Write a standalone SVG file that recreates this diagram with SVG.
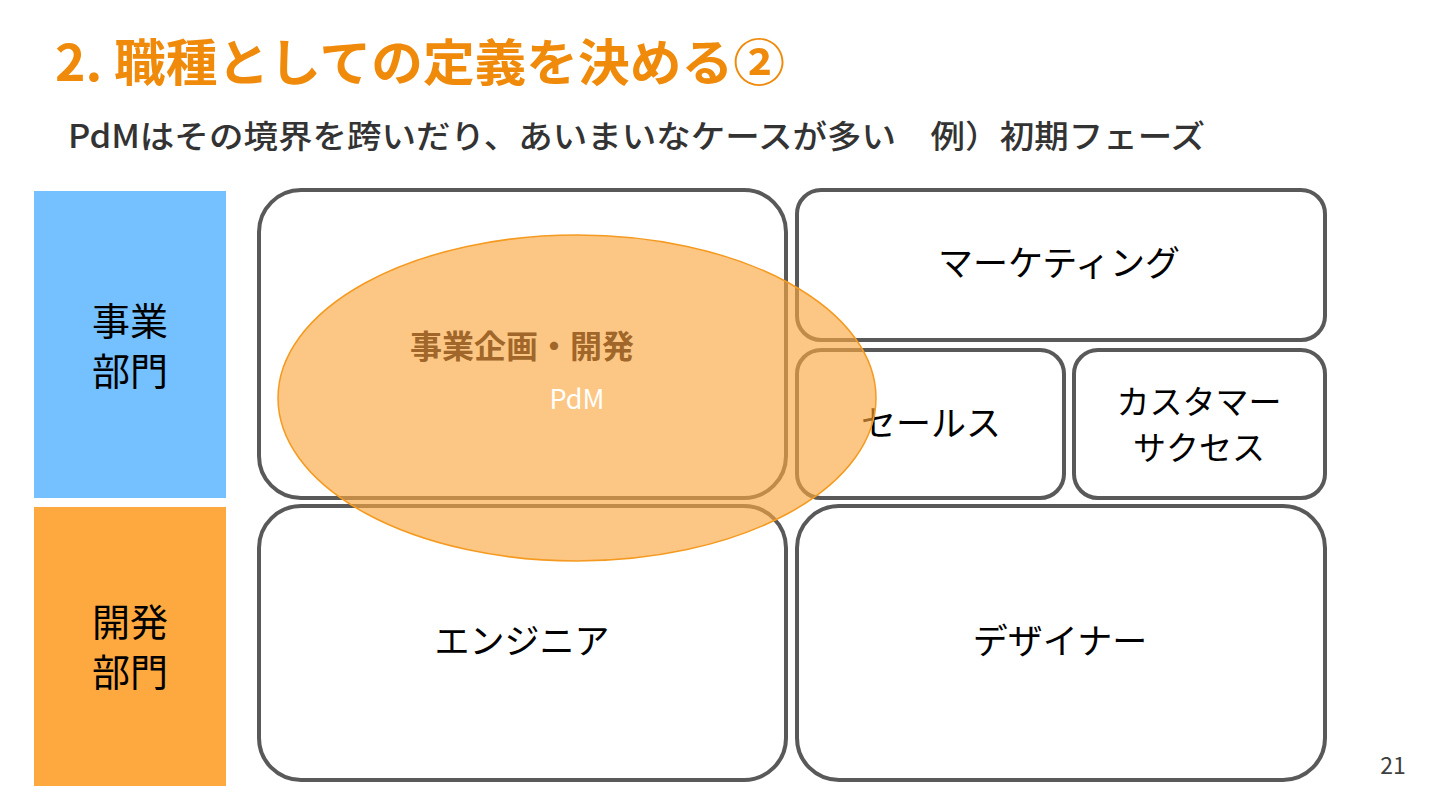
<svg xmlns="http://www.w3.org/2000/svg" width="1440" height="810" viewBox="0 0 1440 810">
<style>
text{font-family:"Noto Sans CJK JP","Noto Sans",sans-serif;}
.box{fill:#ffffff;stroke:#595959;stroke-width:4;}
.lbl{font-size:35px;fill:#000000;text-anchor:middle;}
.dept{font-size:38px;fill:#000000;text-anchor:middle;}
</style>
<rect width="1440" height="810" fill="#ffffff"/>
<text x="55" y="81" font-size="50" font-weight="bold" fill="#F08A0A" textLength="730" lengthAdjust="spacingAndGlyphs">2. 職種としての定義を決める②</text>
<text x="68" y="148" font-size="32" font-weight="500" fill="#333333" textLength="1137" lengthAdjust="spacingAndGlyphs">PdMはその境界を跨いだり、あいまいなケースが多い　例）初期フェーズ</text>

<g id="dept-business">
<rect x="33" y="190" width="194" height="309" fill="#75C1FF" stroke="#ffffff" stroke-width="2"/>
<text class="dept" x="130" y="335">事業</text>
<text class="dept" x="130" y="385">部門</text>
</g>
<g id="dept-dev">
<rect x="33" y="506" width="194" height="281" fill="#FDA940" stroke="#ffffff" stroke-width="2"/>
<text class="dept" x="130" y="636">開発</text>
<text class="dept" x="130" y="686">部門</text>
</g>

<g id="node-planning">
<rect class="box" x="259" y="190" width="527" height="308" rx="42"/>
</g>
<g id="node-marketing">
<rect class="box" x="797" y="190" width="528" height="150" rx="24"/>
<text class="lbl" x="1059" y="276">マーケティング</text>
</g>
<g id="node-sales">
<rect class="box" x="797" y="350" width="267" height="148" rx="24"/>
<text class="lbl" x="931" y="436">セールス</text>
</g>
<g id="node-cs">
<rect class="box" x="1074" y="350" width="251" height="148" rx="24"/>
<text x="1199" y="414" font-size="33" fill="#000000" text-anchor="middle">カスタマー</text>
<text x="1199" y="460" font-size="33" fill="#000000" text-anchor="middle">サクセス</text>
</g>
<g id="node-engineer">
<rect class="box" x="259" y="506" width="527" height="274" rx="42"/>
<text class="lbl" x="522" y="654">エンジニア</text>
</g>
<g id="node-designer">
<rect class="box" x="797" y="506" width="528" height="274" rx="42"/>
<text class="lbl" x="1060" y="654">デザイナー</text>
</g>

<g id="node-pdm">
<ellipse cx="577" cy="398" rx="299" ry="163" fill="#FBA83F" fill-opacity="0.64" stroke="#F59A20" stroke-width="1.5"/>
<text x="522" y="358" font-size="32" font-weight="bold" fill="#A0662A" text-anchor="middle">事業企画・開発</text>
<text x="577" y="409" font-size="27" fill="#ffffff" text-anchor="middle">PdM</text>
</g>
<g id="connectors"></g>

<text x="1393" y="774" font-size="23" fill="#404040" text-anchor="middle">21</text>
</svg>
